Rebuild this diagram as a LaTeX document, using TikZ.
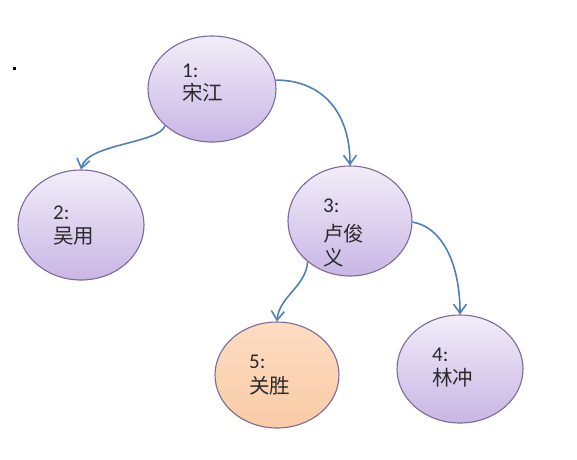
\documentclass[tikz,border=0pt]{standalone}
\usepackage{fontspec}
\setmainfont{Carlito}
\newfontfamily\cjk{Noto Sans CJK SC}
\usetikzlibrary{arrows.meta,shapes.geometric}
\definecolor{lavtop}{HTML}{F2EDF9}
\definecolor{lavbot}{HTML}{C8B6E5}
\definecolor{peachtop}{HTML}{FDDCC2}
\definecolor{peachbot}{HTML}{F9CBA6}
\definecolor{rim}{HTML}{7D6A99}
\definecolor{linkblue}{HTML}{4F7FBD}
\definecolor{txt}{HTML}{2B2B2B}
\tikzset{
  person/.style={ellipse, draw=rim, line width=1.1pt, inner sep=0pt,
    top color=lavtop, bottom color=lavbot},
  hero/.style={person, top color=peachtop, bottom color=peachbot},
  numtext/.style={anchor=base west, inner sep=0pt, text=txt,
    font=\fontsize{21}{26}\selectfont},
  hanzi/.style={anchor=base west, inner sep=0pt, text=txt,
    font=\cjk\fontsize{20.5}{26}\selectfont},
  link/.style={draw=linkblue, line width=1.6pt,
    -{Straight Barb[length=9pt,width=13pt,line width=1.6pt]}}
}
\begin{document}
\begin{tikzpicture}[x=1pt,y=-1pt]
\useasboundingbox (0,0) rectangle (577,459);
\fill[black] (12.5,66.5) rectangle (15.5,69.5);
% ellipses
\node[person, minimum width=128pt, minimum height=106pt] (n1) at (212,89) {};
\node[person, minimum width=126pt, minimum height=110pt] (n2) at (81,225) {};
\node[person, minimum width=124pt, minimum height=110pt] (n3) at (350,221) {};
\node[hero,   minimum width=124pt, minimum height=106pt] (n5) at (277,375) {};
\node[person, minimum width=126pt, minimum height=108pt] (n4) at (460,369) {};
% texts
\node[numtext] (t1a) at (182,77) {1:};
\node[hanzi]   (t1b) at (182,100) {宋江};
\node[numtext] (t2a) at (53,219) {2:};
\node[hanzi]   (t2b) at (53,243) {吴用};
\node[numtext] (t3a) at (323,212) {3:};
\node[hanzi]   (t3b) at (323,241) {卢俊};
\node[hanzi]   (t3c) at (323,265) {义};
\node[numtext] (t5a) at (249,368) {5:};
\node[hanzi]   (t5b) at (249,393) {关胜};
\node[numtext] (t4a) at (432,361) {4:};
\node[hanzi]   (t4b) at (432,385) {林冲};
% connectors
\draw[link] (n1.218) .. controls +(-6,18) and +(6,-26) .. (n2.north);
\draw[link] (n1.8) .. controls +(45,0) and +(0,-55) .. (n3.north);
\draw[link] (n3.224) .. controls +(-2,25) and +(2,-25) .. (n5.north);
\draw[link] (n3.-1) .. controls +(30,5) and +(0,-50) .. (n4.north);
\end{tikzpicture}
\end{document}
